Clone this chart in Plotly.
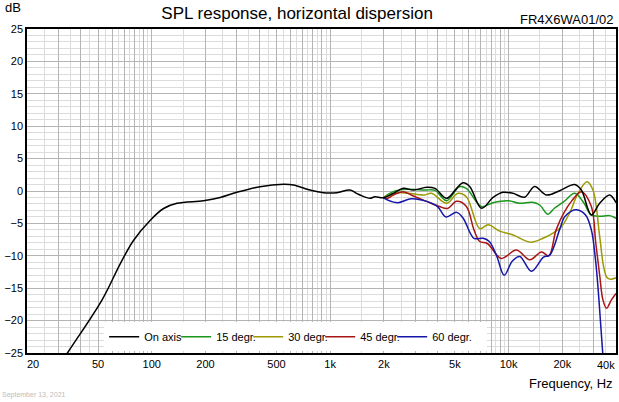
import math
import plotly.graph_objects as go

# ---------------- data ----------------
on_axis_f = [20, 33.7, 52.7, 66.7, 79.2, 98.2, 116.6, 138.5, 195, 242, 300, 405, 547, 622,
             771, 916, 1089, 1292, 1405, 1470, 1672, 1783, 1986, 2258, 2570, 2925, 3475,
             3866, 4497, 5117, 5565, 6066, 7054, 8187, 9313, 10590, 12300, 14000, 16290,
             19330, 23440, 25570, 29100, 32400, 36800, 40000]
on_axis_db = [-34.5, -25, -16.8, -11.2, -7.6, -4.5, -2.7, -1.9, -1.5, -1.0, -0.2, 0.67, 1.03, 0.93,
              0.15, -0.26, -0.26, 0.15, -0.36, -0.62, -1.13, -0.88, -1.03, -0.36, 0.41, 0.15, 0.57,
              0.41, -1.13, 0.41, 1.28, 0.67, -2.67, -1.0, -0.2, -0.36, -0.95, 0.7, -0.62,
              0.05, 1.0, 0.15, -3.7, -1.9, -0.62, -1.8]

deg15_f = [1986, 2258, 2700, 3400, 3866, 4497, 5300, 5800, 7054, 8187, 10000, 11500, 13600,
           15000, 16600, 18000, 20500, 23500, 26500, 29000, 32400, 36800, 40000]
deg15_db = [-1.03, -0.1, 0.26, 0.15, 0.1, -1.5, 0.67, 0.4, -2.4, -1.8, -1.5, -1.9, -1.75,
            -2.2, -3.6, -2.7, -1.6, -0.36, -1.9, -3.7, -3.9, -3.8, -4.2]

deg30_f = [1986, 2400, 2750, 3350, 3700, 4500, 5200, 5800, 6900, 7680, 8930, 10600, 13300,
           15600, 17750, 19780, 21980, 24470, 27500, 29700, 32400, 34000, 35500, 37000, 40000]
deg30_db = [-1.03, -0.26, -0.36, -0.62, -0.36, -1.9, -0.36, -0.88, -5.8, -5.2, -6.2, -6.8, -7.9,
            -7.3, -6.5, -5.5, -3.4, -0.4, 1.44, 0.15, -7.0, -11.5, -13.3, -13.6, -13.4]

deg45_f = [1986, 2100, 2258, 2570, 2925, 3475, 4100, 4550, 5117, 5800, 6400, 6900, 7600, 9100,
           11070, 13140, 15290, 16800, 18470, 20600, 22500, 25600, 29100, 30800, 32400, 33800,
           35400, 37700, 40000]
deg45_db = [-1.03, -1.13, -0.62, -0.1, -0.77, -1.6, -2.4, -2.7, -1.6, -2.4, -6.0, -7.8, -8.1, -10.4,
            -9.1, -10.6, -9.4, -10.0, -6.0, -3.2, -1.6, -0.1, -2.4, -8.0, -13.0, -16.8,
            -18.1, -16.8, -15.8]

deg60_f = [1986, 2100, 2400, 2850, 3475, 4000, 4450, 5117, 5565, 6400, 7200, 7800, 8600, 9450,
           10500, 11550, 13430, 15700, 17000, 19300, 20600, 22500, 24000, 27000, 29100, 30700,
           32100, 33700, 35500]
deg60_db = [-1.03, -1.4, -1.8, -1.2, -1.6, -2.4, -4.0, -3.3, -4.2, -7.3, -7.3, -7.8, -10.1, -13.0,
            -10.8, -10.1, -12.4, -10.2, -9.9, -6.0, -4.0, -3.1, -2.9, -3.7, -6.0, -10.6,
            -16.8, -25, -32]

series_names = ["On axis", "15 degr.", "30 degr.", "45 degr.", "60 degr."]
series_colors = ["#000000", "#1a961a", "#9c9a00", "#a81616", "#1616a8"]

x_label_vals = [20, 50, 100, 200, 500, 1000, 2000, 5000, 10000, 20000, 40000]
x_label_text = ["\u00a0\u00a0\u00a0\u00a020", "50", "100", "200", "500", "1k", "2k", "5k", "10k",
                "20k", ""]
last_x_label = "40k"
y_label_vals = [-25, -20, -15, -10, -5, 0, 5, 10, 15, 20, 25]

# ---------------- grid positions ----------------
int_grid = []
half_grid = []
for dec in [10, 100, 1000, 10000]:
    for m in range(1, 10):
        v = m * dec
        if 20 <= v <= 40000:
            int_grid.append(v)
        h = (m + 0.5) * dec
        if 20 <= h <= 40000:
            half_grid.append(h)
major_x = sorted(set(int_grid + x_label_vals))
major_text = [x_label_text[x_label_vals.index(v)] if v in x_label_vals else "" for v in major_x]

fig = go.Figure()
data = [(on_axis_f, on_axis_db), (deg15_f, deg15_db), (deg30_f, deg30_db),
        (deg45_f, deg45_db), (deg60_f, deg60_db)]
order = [1, 2, 3, 4, 0]
for i in order:
    f, d = data[i]
    fig.add_trace(go.Scatter(x=f, y=d, mode="lines", name=series_names[i],
                             line=dict(color=series_colors[i], width=1.5, shape="spline",
                                       smoothing=1.0),
                             legendrank=i + 1, showlegend=True,
                             legendwidth=(50 if i == 4 else 27)))

font_family = "Arial, Liberation Sans, sans-serif"
fig.update_layout(
    width=619, height=402,
    margin=dict(l=27, r=3, t=29, b=49, autoexpand=False),
    paper_bgcolor="white", plot_bgcolor="white",
    font=dict(family=font_family, size=11, color="black"),
    showlegend=True,
    legend=dict(orientation="h", x=0.131, xanchor="left", y=0.05, yanchor="middle",
                bgcolor="white", borderwidth=0, font=dict(size=11),
                entrywidth=27, entrywidthmode="pixels", traceorder="normal"),
    xaxis=dict(type="log", range=[math.log10(20) - 1e-6, math.log10(40000) + 1e-6],
               tickmode="array", tickvals=major_x, ticktext=major_text,
               ticklabeloverflow="allow",
               showgrid=True, gridcolor="#b4b4b4", gridwidth=1,
               minor=dict(tickmode="array", tickvals=half_grid, showgrid=True,
                          gridcolor="#dcdcdc", gridwidth=1, ticks=""),
               showline=True, linecolor="black", linewidth=1.5, mirror=True,
               ticks="", zeroline=False, tickfont=dict(size=11), automargin=False),
    yaxis=dict(range=[-25, 25], tickmode="array", tickvals=y_label_vals,
               showgrid=True, gridcolor="#b4b4b4", gridwidth=1,
               minor=dict(tickmode="array",
                          tickvals=[v for v in range(-24, 25) if v % 5 != 0],
                          showgrid=True, gridcolor="#dcdcdc", gridwidth=1, ticks=""),
               showline=True, linecolor="black", linewidth=1.5, mirror=True,
               ticks="", zeroline=False, tickfont=dict(size=11), automargin=False),
    title=dict(text="SPL response, horizontal dispersion", x=0.48, xref="container",
               xanchor="center", y=1 - 13 / 402, yref="container", yanchor="middle",
               font=dict(size=17, family=font_family, color="black")),
)

# last x tick label, right-aligned to the plot edge as in the reference
fig.add_annotation(text=last_x_label, xref="paper", yref="paper", x=1.0 + 1 / 589,
                   y=(353 - 365) / 324, xanchor="right", yanchor="middle",
                   showarrow=False, font=dict(size=11))
fig.add_annotation(text="dB", xref="paper", yref="paper", x=(13 - 27) / 589,
                   y=(353 - 8) / 324, xanchor="center", yanchor="middle",
                   showarrow=False, font=dict(size=13))
fig.add_annotation(text="FR4X6WA01/02", xref="paper", yref="paper", x=(615 - 27) / 589,
                   y=(353 - 19) / 324, xanchor="right", yanchor="middle",
                   showarrow=False, font=dict(size=13))
fig.add_annotation(text="Frequency, Hz", xref="paper", yref="paper", x=(615 - 27) / 589,
                   y=(353 - 383) / 324, xanchor="right", yanchor="middle",
                   showarrow=False, font=dict(size=13))
fig.add_annotation(text="September 13, 2021", xref="paper", yref="paper", x=(0 - 27) / 589,
                   y=(353 - 395) / 324, xanchor="left", yanchor="middle",
                   showarrow=False, font=dict(size=7, color="#bdbdbd"))

fig.write_html("out.html", config={"displayModeBar": False},
               post_script="document.body.style.margin='0';")
